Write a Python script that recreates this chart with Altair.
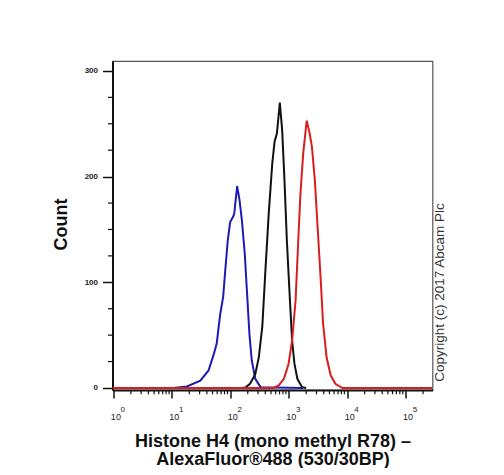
import altair as alt
import pandas as pd

# ---- data (x as log10 of fluorescence, y = count) ----
blue_logx = [0.95, 1.03, 1.26, 1.49, 1.63, 1.72, 1.77, 1.83, 1.88, 1.92, 1.96, 2.00, 2.05,
             2.07, 2.12, 2.16, 2.20, 2.25, 2.29, 2.33, 2.37, 2.43, 2.52, 3.25]
blue_count = [0, 0, 1.4, 7, 16.6, 32, 42, 70, 86, 114, 140, 157, 162,
              165, 191, 178, 159, 127, 89, 51, 26, 8.7, 0.8, 0]

black_logx = [2.20, 2.26, 2.34, 2.43, 2.49, 2.55, 2.60, 2.66, 2.72, 2.76, 2.80, 2.85,
              2.89, 2.93, 2.97, 3.02, 3.06, 3.10, 3.15, 3.23, 3.30]
black_count = [0, 0.5, 4, 13, 29, 58, 108, 165, 212, 233, 241, 270,
               244, 196, 140, 86, 45, 23, 8.7, 0.8, 0]

red_logx = [-0.01, 2.74, 2.83, 2.92, 3.00, 3.06, 3.12, 3.16, 3.20, 3.25, 3.31, 3.36,
            3.40, 3.45, 3.50, 3.55, 3.59, 3.65, 3.72, 3.80, 3.92, 5.46]
red_count = [0, 0, 2.4, 8.7, 23, 45, 83, 133, 181, 222, 253, 241,
             228, 196, 149, 102, 61, 29, 12, 4, 0, 0]

x_major = [1, 10, 100, 1000, 10000, 100000]
x_exponents = ["0", "1", "2", "3", "4", "5"]
x_minor = [m * 10 ** d for d in range(0, 6) for m in range(2, 10) if m * 10 ** d < 2.9e5]
y_major = [0, 100, 200, 300]
y_minor = [25, 50, 75, 125, 150, 175, 225, 250, 275]

x_title = ["Histone H4 (mono methyl R78) \u2013", "AlexaFluor\u00ae488 (530/30BP)"]
y_title = "Count"
copyright_text = "Copyright (c) 2017 Abcam Plc"

series_colors = ["#1c1cb4", "#111111", "#d81e1e"]

W, H = 320, 329
FONT = "Liberation Sans"

xscale = alt.Scale(type="log", domain=[0.97, 2.9e5], nice=False)
yscale = alt.Scale(domain=[-1.9, 309.4], nice=False, zero=False)

xaxis = alt.Axis(
    values=x_major, grid=False, tickSize=8, tickWidth=1.5, tickColor="#111",
    domainColor="#111", domainWidth=2,
    labelExpr="'10'",
    labelAlign="center", labelOffset=2.1, labelBaseline="top", labelPadding=14,
    labelFont=FONT, labelFontSize=9, labelColor="#222",
    labelFlush=False, labelOverlap=False,
    title=x_title, titleFont=FONT, titleFontSize=18, titleFontWeight="bold",
    titleColor="#111", titleBaseline="alphabetic", titleX=W / 2, titleY=56,
    titleLineHeight=18, titleAlign="center",
)
yaxis = alt.Axis(
    values=y_major, grid=False, tickSize=10, tickWidth=1.5, tickColor="#111",
    domainColor="#111", domainWidth=2,
    labelFont=FONT, labelFontSize=8, labelFontWeight="bold", labelColor="#222",
    labelPadding=5, labelFlush=False, labelOverlap=False,
    title=y_title, titleFont=FONT, titleFontSize=18, titleFontWeight="bold",
    titleColor="#111", titleAngle=270, titleX=-46.5, titleY=163,
    titleBaseline="alphabetic", titleAlign="center",
)


def curve(logx, counts, color):
    df = pd.DataFrame({"x": [10 ** v for v in logx], "count": counts,
                       "i": list(range(len(logx)))})
    return alt.Chart(df).mark_line(color=color, strokeWidth=2, clip=True).encode(
        x=alt.X("x:Q", scale=xscale, axis=xaxis),
        y=alt.Y("count:Q", scale=yscale, axis=yaxis),
        order="i:Q",
    )


layers = [
    curve(blue_logx, blue_count, series_colors[0]),
    curve(black_logx, black_count, series_colors[1]),
    curve(red_logx, red_count, series_colors[2]),
]

xminor = alt.Chart(pd.DataFrame({"x": x_minor})).mark_rule(color="#111", strokeWidth=1.2).encode(
    x=alt.X("x:Q", scale=xscale, axis=xaxis),
    y=alt.value(H), y2=alt.value(H + 4.3),
)
yminor = alt.Chart(pd.DataFrame({"count": y_minor})).mark_rule(color="#111", strokeWidth=1.2).encode(
    y=alt.Y("count:Q", scale=yscale, axis=yaxis),
    x=alt.value(0), x2=alt.value(-4.5),
)
sup = alt.Chart(pd.DataFrame({"x": x_major, "e": x_exponents})).mark_text(
    align="left", baseline="alphabetic", dx=7.3, fontSize=8, font=FONT, color="#222"
).encode(
    x=alt.X("x:Q", scale=xscale, axis=xaxis),
    y=alt.value(H + 22.4),
    text="e:N",
)
copy = alt.Chart(pd.DataFrame({"t": [copyright_text]})).mark_text(
    angle=270, align="center", baseline="alphabetic", fontSize=13.5, font=FONT, color="#333"
).encode(text="t:N", x=alt.value(331.5), y=alt.value(231.5))

chart = alt.layer(xminor, yminor, *layers, sup, copy).properties(
    width=W, height=H,
    autosize=alt.AutoSizeParams(type="none"),
    padding={"left": 104.5, "top": 53, "right": 60, "bottom": 78},
).configure_view(stroke="#555", strokeWidth=1.2)

chart.save("out.html", embed_options={"renderer": "svg", "actions": False})
